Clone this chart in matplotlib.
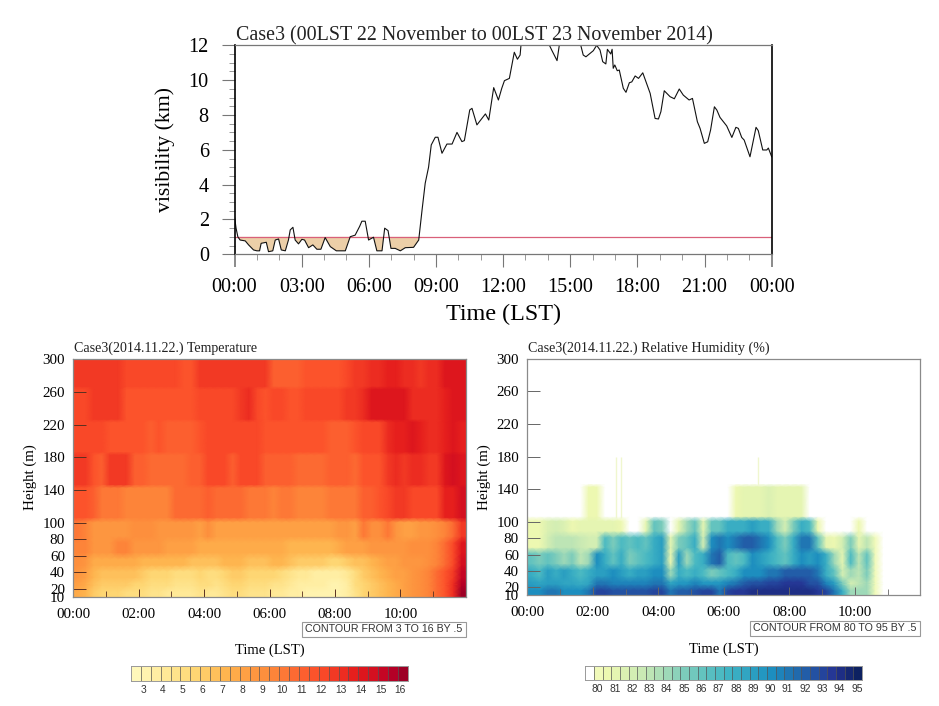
import numpy as np
import matplotlib
matplotlib.use('Agg')
import matplotlib.pyplot as plt
from matplotlib.colors import ListedColormap, BoundaryNorm

plt.rcParams['font.family'] = ['Liberation Serif', 'DejaVu Serif']

vis_hours = [0,.07,.15,.25,.48,.63,.85,1.0,1.12,1.19,1.42,1.52,1.71,1.82,1.97,2.09,2.27,2.41,2.49,2.61,2.71,2.86,3.01,3.13,3.31,3.5,3.68,3.86,4.05,4.28,4.55,4.95,5.17,5.39,5.59,5.69,5.84,5.99,6.21,6.36,6.59,6.71,6.86,6.99,7.18,7.41,7.63,8.0,8.23,8.38,8.52,8.67,8.79,8.97,9.09,9.27,9.49,9.72,9.94,10.16,10.27,10.51,10.61,10.83,11.21,11.36,11.58,11.79,11.94,12.06,12.28,12.5,12.64,12.76,12.8,12.95,13.1,13.4,13.8,14.07,14.17,14.41,14.51,14.8,15.2,15.47,15.58,15.7,16.03,16.18,16.33,16.45,16.59,16.66,16.81,16.87,16.92,16.99,17.1,17.19,17.37,17.49,17.64,17.75,17.9,18.05,18.24,18.49,18.57,18.79,18.94,19.05,19.2,19.46,19.65,19.87,20.05,20.31,20.46,20.68,20.8,20.99,21.14,21.27,21.44,21.55,21.69,21.99,22.22,22.4,22.51,22.66,22.77,23.03,23.3,23.4,23.6,23.78,23.85,24.0]
vis_km = [2.16,1.5,1.0,.82,.77,.54,.25,.2,.2,.63,.69,.15,.2,.82,.88,.25,.2,.82,1.4,1.55,.82,.6,.86,.82,.38,.54,.29,.29,.96,.44,.2,.2,1.01,1.1,1.6,1.9,1.9,.82,.98,.2,.2,1.5,1.36,.34,.34,.2,.38,.4,.82,2.55,4.08,5.0,6.28,6.72,6.72,5.8,6.33,6.33,7.0,6.47,6.53,8.29,8.38,7.43,8.06,7.71,9.57,8.86,9.53,9.97,10.1,11.6,11.2,11.44,12.03,12.0,12.4,12.6,12.5,12.0,11.73,11.12,12.0,12.4,12.5,12.0,11.44,11.34,11.69,12.0,11.73,11.06,10.93,11.77,11.5,11.77,10.68,10.87,10.54,10.58,9.53,9.3,9.85,9.9,10.24,10.1,10.42,9.53,9.24,7.8,7.77,8.19,9.39,9.05,8.93,9.49,9.14,8.86,8.95,7.61,7.23,6.37,6.46,7.14,8.47,8.28,7.86,7.37,6.71,7.29,7.23,6.71,6.56,5.6,7.29,7.1,5.99,5.99,6.1,5.6]
fog_threshold = [1.0, 1.0]

top_xticks = [0,3,6,9,12,15,18,21,24]
top_xlabels = ['00:00','03:00','06:00','09:00','12:00','15:00','18:00','21:00','00:00']
top_yticks = [0,2,4,6,8,10,12]

time_hours = np.concatenate(([0.0], np.arange(48) * 0.25 + 0.125, [12.0]))
heat_xticks = [0,2,4,6,8,10]
heat_xlabels = ['00:00','02:00','04:00','06:00','08:00','10:00']
heat_yticks = [10,20,40,60,80,100,140,180,220,260,300]

temp_height_edges = [10,20,30,45,60,80,105,145,185,225,265,300]
temp_10 = [7.5,7,6,5.5,5.5,5.5,5,5,5,4.5,4.5,4,4,4,4,4.5,4,4,4.5,5,5,4.5,4.5,4.5,4,4,3.5,3.5,3,3,3,3,3,3.5,4.5,5.5,6,6.5,7,7.5,8,8.5,9,9.5,10.5,11.5,13,16]
temp_20 = [8,7.5,6.5,6,6,6,6,5.5,5.5,5,5,5,4.5,4.5,4.5,5,5,4.5,5,5.5,5.5,5,5,5,4.5,4.5,4,3.5,3.5,3.5,3.5,3,3,3.5,5,5.5,6,6.5,7,7.5,8,8.5,9,9.5,10.5,11.5,13,15.5]
temp_30 = [8.5,8,7,6.5,6.5,6.5,6.5,6.5,6,5.5,5.5,5.5,5,5,5,5.5,5,5,5.5,6,6,5.5,5.5,5.5,5.5,5,4.5,4,4,3.5,3.5,3.5,3.5,4,5,6,6.5,7,7.5,8,8,8.5,9,9.5,10.5,11.5,12.5,15]
temp_45 = [9,8.5,7.5,7.5,7.5,7.5,7.5,7.5,7,7,7,7,7,7,6.5,6.5,6.5,6.5,7,7,7,6.5,6.5,6.5,7,7,6.5,6,6,6,6,5.5,5.5,6,6.5,6.5,7,7.5,8,8,8.5,8.5,8.5,9,9.5,10.5,12,14.5]
temp_60 = [9.5,9.5,8.5,8.5,8.5,9.5,9.5,8.5,8.5,8.5,8.5,8,8,8,8,7.5,7.5,7.5,7.5,7.5,7.5,7.5,7.5,7.5,7.5,7.5,7,7,7,7,7,7,7.5,8,8,8,8.5,8.5,8.5,8.5,8.5,9,9,9,9.5,10.5,12,14]
temp_80 = [10,9.5,8.5,8.5,8.5,8.5,8.5,9,9,9,8.5,8.5,8.5,8.5,8.5,8,9,8,8,8,8,8,8,8,8,8,8,8,8,8,8,8,8.5,8.5,8,10,9,9,10,8.5,8,8,8.5,8.5,9,9.5,10.5,12.5]
temp_105 = [11.5,11.5,11,10,10,10,9.5,9.5,9.5,9.5,9.5,9.5,10.5,10.5,10.5,10.5,11,10.5,10.5,10.5,10.5,10,10,10,9.5,10,10,9.5,9.5,9.5,9.5,10,10,10,10,11,11,11.5,12,12.5,12.5,12,12,12,12,13.5,13.5,14.5]
temp_145 = [12.5,12.5,11.5,11,12.5,12.5,12.5,11,11,10.5,10.5,10.5,10.5,10.5,11,11,12,12,12,11,12,12,12,11,11,11,11,10.5,10.5,10.5,10.5,11,11,11,10.5,11.5,11.5,11.5,12.5,13,12.5,13,13,12.5,12.5,14,14.5,14]
temp_185 = [12,12,12,12,11.5,11.5,11.5,11.5,11.5,11,11.5,11,11,11,11,11.5,12,12,12,12,12,12,12,11.5,11.5,11.5,11.5,11.5,11.5,11.5,11.5,11,11,11,11.5,12,12,12,13,13.5,13.5,14,13.5,13,13,13.5,14,13.5]
temp_225 = [12,12,12.5,12.5,12.5,12.5,11.5,11.5,11.5,11.5,11.5,11.5,11.5,11.5,11.5,12,12,12,12,12,12.5,13,12,11.5,12,12,11.5,11.5,12,12,12,12,12,12.5,12.5,13,14,14,14,14,14,13,13,13,13,13.5,14,14]
temp_265 = [12.5,12.5,12.5,12.5,12.5,12.5,12,12,12,12,12,12,12,11.5,11.5,12.5,12.5,12.5,12.5,12.5,12.5,12.5,12.5,12.5,11,11,11,11,11.5,11.5,11.5,11.5,11.5,12,12.5,12.5,13,13,13.5,13.5,13,13,12.5,13,13,14,14,14]
temp_levels = np.arange(3, 16.5, 0.5)
temp_labels = ['3','4','5','6','7','8','9','10','11','12','13','14','15','16']

rh_height_edges = [10,20,30,45,65,85,105,145,300]
rh_10 = [90,90,91,91,90,90,90,91,93,93,92.5,92.5,92.5,92.5,92.5,93,93,91,92,92,92.5,93,93,91,93,93.5,93.5,94,94,94,94,94,94,94,94,93.5,93,91,88,84,84,84,80,79,79,79,79,79]
rh_20 = [89,88.5,89,89,88.5,88.5,88,88.5,91,91,90.5,90.5,90.5,90.5,90.5,91,91,88.5,89.5,89.5,90.5,89.5,89.5,89.5,90.5,91,92,92.5,92.5,93,93,93.5,93.5,93.5,92.5,92.5,90.5,89,85,82,83,84,80,79,79,79,79,79]
rh_30 = [88,87,89,88,89,88,87,88,89,89,90,89,88,89,89,90,90,84,88,87,88,87,85,86,87,88,90,90,90,91,91,92,92,92,92,91,88,86,82,84,83,85,80,79,79,79,79,79]
rh_45 = [86,85,86,85,84,85,83,84,90,88,86,88,85,86,87,88,89,80.5,89,84,87,88,91,92,87,86,87,90,89,88,87,86,88,90,89,90,88,84,81,87,83,86,80,79,79,79,79,79]
rh_65 = [80.5,80.5,82,83,83,83,82.5,82,82,87,85,87,86,87,86,88,89,81,85,86,88,82,90,91,90,91,92,92,91,90,87,85,88,91,91,86,81,80.5,82,85,81,83,80,79,79,79,79,79]
rh_85 = [80.5,80.5,81.5,82,81.5,80.5,81,81,81,81,81,80.5,79,79,81,86,85,79,81,84,86,81,86,86,88,88,88,89,88,88,84,82,85,88,87,80.5,79,79,79,79,80.5,79,79,79,79,79,79,79]
rh_105 = [79,79,79,79,79,79,79,80.5,80.5,79,79,79,79,79,79,79,79,79,79,79,79,79,79,79,79,80.5,81,81,81,81.5,81,81,81,81,79,79,79,79,79,79,79,79,79,79,79,79,79,79]
rh_145 = [79]*48
rh_spike_hours = [2.72, 2.85, 7.03]
rh_spike_low = [105, 105, 145]
rh_spike_high = [180, 180, 180]
rh_levels = np.arange(80, 95.5, 0.5)
rh_labels = [str(v) for v in range(80, 96)]

W, H = 939, 706
fig = plt.figure(figsize=(W/100, H/100), dpi=100)
def box(x0, y0, x1, y1):
    return [x0/W, 1-y1/H, (x1-x0)/W, (y1-y0)/H]

# visibility
ax = fig.add_axes(box(234.5, 45.3, 771.7, 254.3))
t = np.array(vis_hours); v = np.array(vis_km)
ax.fill_between(t, v, 1.0, where=v < 1.0, interpolate=True, color='#eccfa8', lw=0)
ax.plot([0, 24], fog_threshold, color='#d9607a', lw=0.9)
ax.plot(t, v, color='#111111', lw=0.8)
ax.set_xlim(0, 24); ax.set_ylim(0, 12)
ax.set_xticks(top_xticks, top_xlabels, fontsize=14.6)
ax.set_xticks(np.arange(0, 25), minor=True)
ax.set_yticks(top_yticks, [str(y) for y in top_yticks], fontsize=14.6)
ax.set_yticks(np.arange(0, 12.5, 0.5), minor=True)
ax.tick_params(which='major', length=9.5, width=0.8, color='#777777', pad=7.5)
ax.tick_params(which='minor', length=4.5, width=0.7, color='#999999')
ax.tick_params(axis='y', which='major', pad=9)
for s in ('top', 'bottom'):
    ax.spines[s].set_color('#777777'); ax.spines[s].set_linewidth(0.9)
for s in ('left', 'right'):
    ax.spines[s].set_color('black'); ax.spines[s].set_linewidth(1.2)
xt = ax.xaxis.get_major_ticks()
for k in (0, -1):
    xt[k].tick1line.set_color('black'); xt[k].tick1line.set_markeredgewidth(1.2)
fig.text(236/W, 1-36/H, 'Case3 (00LST 22 November to 00LST 23 November 2014)', fontsize=14.4, va='center', ha='left', color='#222222')
fig.text(165.6/W, 1-150/H, 'visibility (km)', fontsize=15.7, rotation=90, va='center', ha='center')
fig.text(503/W, 1-314/H, 'Time (LST)', fontsize=17.4, va='center', ha='center')

def heat(axbox, cbbox, Z, yedges, levels, colors, title, clabels, label_step, note, notebox, ylab_x, xlab_xy, title_xy, tick_color, offset):
    ax = fig.add_axes(box(*axbox))
    cmap = ListedColormap(colors)
    bounds = np.concatenate(([levels[0]-1], levels, [levels[-1]+1]))
    norm = BoundaryNorm(bounds, cmap.N)
    # every band keeps a plateau, with a short blend across its boundary
    edges = np.array(yedges, dtype=float)
    blend = np.where(edges[:-1] < 100, 4.0, 2.0)
    ylo = edges[:-1] + blend; yhi = edges[1:] - blend
    ylo[0] = edges[0]; yhi[-1] = edges[-1]
    y = np.column_stack((ylo, yhi)).ravel()
    Zr = np.repeat(Z, 2, axis=0)
    Zr = np.column_stack((Zr[:, 0], Zr, Zr[:, -1]))
    ax.pcolormesh(time_hours, y, Zr, cmap=cmap, norm=norm, shading='gouraud', rasterized=True)
    ax.set_xlim(0, 12); ax.set_ylim(10, 300)
    ax.set_xticks(heat_xticks, heat_xlabels, fontsize=10.8)
    ax.set_xticks(np.arange(0, 12), minor=True)
    ax.set_yticks(heat_yticks, [str(y) for y in heat_yticks], fontsize=10.8)
    ax.tick_params(which='major', direction='in', length=9, width=0.7, color=tick_color, pad=6)
    ax.tick_params(which='minor', direction='in', length=4, width=0.6, color=tick_color)
    ax.tick_params(axis='x', which='major', length=6, pad=8)
    for s in ax.spines.values():
        s.set_color('#8a8a8a'); s.set_linewidth(0.9)
    fig.text(title_xy[0]/W, 1-title_xy[1]/H, title, fontsize=10.1, va='center', ha='left', color='#222222')
    fig.text(ylab_x/W, 1-477/H, 'Height (m)', fontsize=10.8, rotation=90, va='center', ha='center')
    fig.text(xlab_xy[0]/W, 1-xlab_xy[1]/H, 'Time (LST)', fontsize=10.5, va='center', ha='center')
    nx0, ny0, nx1, ny1 = notebox
    fig.patches.append(plt.Rectangle((nx0/W, 1-ny1/H), (nx1-nx0)/W, (ny1-ny0)/H, transform=fig.transFigure, fc='white', ec='#999999', lw=0.8, figure=fig))
    fig.text((nx0+nx1)/2/W, 1-(ny0+ny1)/2/H, note, fontsize=7.7, family='Liberation Sans', va='center', ha='center', color='#333333')
    cax = fig.add_axes(box(*cbbox))
    n = len(colors)
    cax.pcolormesh(np.arange(n+1), [0, 1], np.arange(n)[None, :], cmap=cmap, vmin=-0.5, vmax=n-0.5)
    cax.vlines(np.arange(1, n), 0, 1, color='#555555', lw=0.5)
    cax.set_xlim(0, n); cax.set_ylim(0, 1); cax.set_yticks([])
    cax.set_xticks(np.arange(1, n, label_step) + offset, clabels, fontsize=7.4, family='Liberation Sans', color='#333333')
    cax.tick_params(length=0, pad=3)
    for s in cax.spines.values():
        s.set_color('#999999'); s.set_linewidth(0.7)
    return ax

temp_Z = np.array([temp_10,temp_20,temp_30,temp_45,temp_60,temp_80,temp_105,temp_145,temp_185,temp_225,temp_265])
temp_stops = np.interp(np.arange(28), [0, 6, 12, 19, 24, 27], [0.05, 0.26, 0.47, 0.64, 0.80, 0.94])
temp_colors = plt.get_cmap('YlOrRd')(temp_stops)
heat((73.3, 359, 465.7, 596.7), (131, 666.3, 407.7, 681), temp_Z, temp_height_edges, temp_levels, temp_colors,
     'Case3(2014.11.22.) Temperature', temp_labels, 2, 'CONTOUR FROM 3 TO 16 BY .5', (301.7, 622.3, 465.7, 636.7),
     30, (270, 650.5), (74, 348), '#5a3020', 0.25)

rh_Z = np.array([rh_10,rh_20,rh_30,rh_45,rh_65,rh_85,rh_105,rh_145])
rh_stops = np.interp(np.arange(1, 32), [1, 11, 21, 25, 31], [0.1, 0.38, 0.63, 0.75, 0.98])
rh_colors = np.vstack(([[1, 1, 1, 1]], plt.get_cmap('YlGnBu')(rh_stops)))
ax2 = heat((527.3, 358.7, 920.3, 595.3), (585.3, 665.7, 862, 679.7), rh_Z, rh_height_edges, rh_levels, rh_colors,
     'Case3(2014.11.22.) Relative Humidity (%)', rh_labels, 2, 'CONTOUR FROM 80 TO 95 BY .5', (750, 621, 920.3, 635.5),
     484, (724, 649), (528, 348), '#666666', 0.4)
ax2.vlines(rh_spike_hours, rh_spike_low, rh_spike_high, color='#f0f7cf', lw=1)

fig.savefig('out.png', dpi=100)
